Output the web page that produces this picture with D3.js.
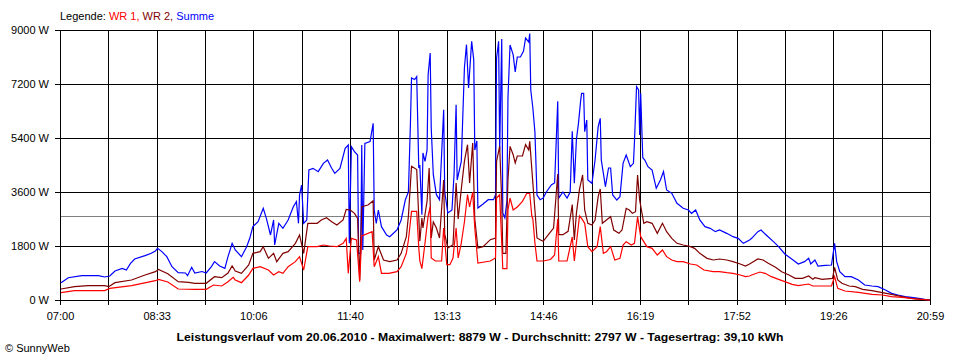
<!DOCTYPE html>
<html><head><meta charset="utf-8">
<script src="https://cdn.jsdelivr.net/npm/d3@7"></script>
<style>
html,body{margin:0;padding:0;background:#fff;}
svg{display:block;font-family:"Liberation Sans",Arial,sans-serif;}
</style></head>
<body><svg id="c" width="960" height="360"></svg>
<script>
// ---- data (minutes since 07:00, Watt) ----
const dayMinutes = 839; // 07:00 .. 20:59
const xTickLabels = ["07:00","08:33","10:06","11:40","13:13","14:46","16:19","17:52","19:26","20:59"];
const yTicks = [0,1800,3600,5400,7200,9000];
const averageWatt = 2797;
const seriesNames = ["WR 1","WR 2","Summe"];
const seriesColors = ["#ff0000","#800000","#0000ff"];
const titleText = "Leistungsverlauf vom 20.06.2010 - Maximalwert: 8879 W - Durchschnitt: 2797 W - Tagesertrag: 39,10 kWh";

const summeMin = [1,8,21,37,43,48,53,60,64,68,72,82,88,92,94,98,103,108,114,121,123,127,130,137,141,146,149,154,159,162,166,169,175,180,183,186,191,196,199,203,206,207,211,215,220,225,228,230,231,233,235,238,240,244,249,254,258,262,265,270,275,278,279,281,284,287,288,290,291,292,294,299,302,303,305,307,310,315,318,325,329,333,336,338,339,342,344,346,347,349,350,352,354,355,357,358,360,363,366,370,371,374,378,380,382,383,387,390,392,394,397,399,400,402,403,408,413,418,420,421,423,424,426,427,429,431,432,434,437,439,441,444,447,449,452,453,454,456,458,460,463,466,469,474,477,480,481,485,489,492,494,496,498,500,502,503,505,506,508,509,513,516,519,521,522,526,529,531,533,537,540,543,546,550,553,554,556,558,559,560,562,564,567,571,575,579,582,585,590,595,601,606,609,613,617,622,627,632,636,643,649,654,659,665,667,673,676,681,688,693,699,706,712,718,722,724,728,731,738,744,747,749,752,757,763,770,776,783,789,796,802,808,815,821,828,834,839];
const summeWatt = [577,743,810,810,767,800,967,1056,1000,1222,1367,1478,1556,1633,1722,1622,1444,1111,911,900,811,1089,900,950,900,1111,1278,1133,1056,1444,1889,1667,1444,1778,2056,2444,2611,3056,2722,2167,2667,1833,2556,2389,2667,3111,3278,2556,3500,3833,2556,2667,4333,4389,4278,4556,4667,4389,4222,4389,5056,5167,1889,5111,4944,4833,1556,1556,5167,1667,5222,5278,5889,3000,2556,3000,2444,2167,2111,2333,2667,3333,3600,5956,7400,7350,7450,4400,4500,2844,4900,4622,5000,7511,8233,5733,4178,3511,3344,6344,3611,2900,3000,4178,6511,4000,4622,7733,8511,7067,8622,8000,5000,5300,3067,3200,3344,3344,3500,8067,8622,5000,8700,2900,2733,3300,6733,8500,8178,7600,8100,8100,8300,8733,8600,8879,7000,6400,5600,3500,3344,3400,3600,3844,3900,6622,3400,3600,3400,3600,5622,3889,5350,5889,6611,6889,6889,5611,6000,4000,3889,4667,5778,6056,4667,3778,4400,4400,3500,3333,3444,4556,4833,4444,4556,5278,7111,7000,5500,6889,4744,4667,4444,4333,3722,4000,4278,3667,3556,3222,3056,3000,2889,3000,2667,2444,2389,2278,2333,2222,2111,2056,1889,2000,2056,2278,2333,2167,1944,1778,1533,1356,1200,1278,1389,1200,1333,1133,1156,1167,1889,1278,944,778,778,667,500,467,444,333,222,167,111,89,56,22,0];

const wr2Min = [1,14,27,43,47,53,69,82,92,95,104,114,124,130,141,149,156,162,166,169,175,182,186,193,196,201,206,209,215,220,227,231,235,239,248,252,257,262,267,273,276,280,284,287,289,291,297,302,303,307,312,318,325,329,334,336,339,344,346,347,349,350,354,356,358,360,363,366,370,371,374,379,382,384,387,390,393,395,398,400,403,408,415,420,421,424,426,427,430,432,434,437,439,441,446,449,452,453,456,458,460,463,466,471,476,480,481,485,490,494,496,498,501,504,506,509,513,516,519,521,523,527,531,534,539,542,546,549,552,555,557,559,563,566,571,576,581,585,590,595,601,608,612,617,624,630,636,643,649,656,661,665,667,673,678,683,690,696,703,709,716,722,726,728,735,745,747,750,754,761,767,774,783,793,802,812,821,831,839];
const wr2Watt = [367,444,478,478,444,578,667,833,944,1022,878,611,589,556,556,778,744,900,1133,967,889,1167,1556,1611,1778,1389,1556,1278,1556,1611,1889,2167,1556,2556,2556,2667,2744,2611,2500,2667,3022,3000,2889,2722,667,3111,3167,3311,1333,1778,1333,1278,1333,1556,2111,2800,4456,4350,2733,1956,2733,2400,3300,4400,2067,2600,2400,2067,4000,2200,1733,1844,3900,2700,3700,4622,5178,3900,5233,2700,1733,1778,2011,2067,4622,5122,3300,1556,1556,4000,5122,4844,4570,4800,4800,5178,5000,5289,3900,3000,2067,2011,1956,2178,2400,4200,2178,2178,2289,3178,2000,2889,3700,4167,3000,2556,2500,2667,3444,3700,2556,2667,2778,2333,2222,2333,3056,3000,2889,2944,4167,3333,2556,2611,2556,2222,2556,2278,2056,1889,1833,1778,1722,1556,1389,1333,1367,1333,1278,1200,1133,1200,1244,1367,1333,1222,1089,944,833,722,722,800,689,744,689,722,1089,667,556,467,444,356,311,244,189,111,56,22,0];

const wr1Min = [1,14,43,48,69,92,95,104,114,130,141,148,156,162,167,169,175,182,186,193,201,206,211,215,220,227,231,235,239,248,254,260,267,273,276,278,281,286,289,291,301,303,307,310,317,325,329,334,336,339,344,346,347,349,352,355,357,358,362,368,370,373,376,379,382,384,387,390,393,395,398,400,403,415,420,421,424,426,427,431,432,434,437,441,446,450,453,455,456,458,460,466,473,477,480,481,489,494,496,498,501,503,506,509,513,518,521,524,527,531,535,540,543,546,551,554,557,560,566,571,576,581,585,590,595,601,608,614,621,630,636,643,649,656,661,665,667,675,680,686,693,699,706,712,722,726,731,744,747,750,757,770,783,793,802,812,825,839];
const wr1Watt = [244,311,311,389,478,644,689,600,367,356,356,500,467,611,756,667,578,833,1056,1111,1000,833,944,889,1111,1278,1444,1000,1778,1778,1833,1800,1778,1889,2056,889,2056,2000,611,2133,2278,1111,1444,889,889,944,1111,1556,2000,2956,2956,1733,1300,1044,1900,2800,3100,1400,1300,1300,2400,1178,1178,1400,2400,1400,1900,2600,3511,3100,3600,2400,1233,1300,1400,3400,3511,1900,1044,1044,3000,3400,3000,3100,3289,3550,3550,2800,2700,1900,1300,1300,1350,1500,2700,1300,1300,2100,1300,1900,2800,2722,2556,1778,1611,1778,2444,1556,1611,1778,1333,1389,1833,1944,1833,1889,2778,2111,1778,1722,1500,1667,1444,1333,1278,1278,1200,1167,1000,944,944,911,889,833,778,800,833,933,889,778,689,611,522,478,533,467,467,467,778,389,300,256,189,167,111,89,33,0];

// ---- chart ----
const W = 960, H = 360;
const m = {left:60, right:30, top:30, bottom:60};
const svg = d3.select("#c");
svg.append("rect").attr("width",W).attr("height",H).attr("fill","#fff");

const x = d3.scaleLinear().domain([0, dayMinutes]).range([m.left, W - m.right]);
const y = d3.scaleLinear().domain([0, 9000]).range([H - m.bottom, m.top]);

const nGrid = 18;
const gridMinutes = d3.range(nGrid + 1).map(i => i * dayMinutes / nGrid);

// average line (gray)
svg.append("line")
  .attr("x1", x(0)).attr("x2", x(dayMinutes))
  .attr("y1", Math.round(y(averageWatt)) + 0.5).attr("y2", Math.round(y(averageWatt)) + 0.5)
  .attr("stroke", "#808080").attr("stroke-width", 1).attr("shape-rendering","crispEdges");

// grid
const grid = svg.append("g").attr("stroke","#000").attr("stroke-width",1).attr("shape-rendering","crispEdges");
grid.selectAll(".h").data(yTicks).join("line")
  .attr("x1", x(0)).attr("x2", x(dayMinutes))
  .attr("y1", d => Math.round(y(d)) + 0.5).attr("y2", d => Math.round(y(d)) + 0.5);
grid.selectAll(".v").data(gridMinutes).join("line")
  .attr("y1", y(9000)).attr("y2", y(0))
  .attr("x1", d => Math.round(x(d)) + 0.5).attr("x2", d => Math.round(x(d)) + 0.5);

// axes
const yAxis = d3.axisLeft(y).tickValues(yTicks).tickSize(5).tickPadding(6)
  .tickFormat(d => d + " W");
const gy = svg.append("g").attr("transform", `translate(${m.left},0)`).call(yAxis);
gy.select(".domain").remove();

const xAxis = d3.axisBottom(x).tickValues(gridMinutes).tickSize(5).tickPadding(7)
  .tickFormat((d, i) => i % 2 === 0 ? xTickLabels[i / 2] : "");
const gx = svg.append("g").attr("transform", `translate(0,${H - m.bottom})`).call(xAxis);
gx.select(".domain").remove();

[gx, gy].forEach(g => {
  g.selectAll("line").attr("stroke","#000").attr("shape-rendering","crispEdges");
  g.selectAll("text").attr("fill","#000").style("font-size","11px")
    .style("font-family","'Liberation Sans',Arial,sans-serif");
});

// series lines
const line = d3.line().x(d => x(d[0])).y(d => y(d[1])).curve(d3.curveLinear);
const series = [
  {mins: summeMin, vals: summeWatt, color: seriesColors[2]},
  {mins: wr2Min, vals: wr2Watt, color: seriesColors[1]},
  {mins: wr1Min, vals: wr1Watt, color: seriesColors[0]}
];
series.forEach(s => {
  svg.append("path")
    .datum(s.mins.map((t, i) => [t, s.vals[i]]))
    .attr("d", line).attr("fill","none")
    .attr("stroke", s.color).attr("stroke-width", 1.2)
    .attr("stroke-linejoin","miter");
});

// legend
const leg = svg.append("text").attr("x", 60).attr("y", 20).style("font-size","11px");
leg.append("tspan").attr("fill","#000").text("Legende: ");
seriesNames.forEach((n, i) => {
  leg.append("tspan").attr("fill", seriesColors[i]).text(n + (i < seriesNames.length - 1 ? ", " : ""));
});

// title
svg.append("text").attr("x", 480).attr("y", 341).attr("text-anchor","middle")
  .style("font-size","11px").style("font-weight","bold")
  .attr("textLength", 607).attr("lengthAdjust","spacingAndGlyphs")
  .text(titleText);

// copyright
svg.append("text").attr("x", 5).attr("y", 352).style("font-size","11px")
  .text("© SunnyWeb");
</script>
</body></html>
